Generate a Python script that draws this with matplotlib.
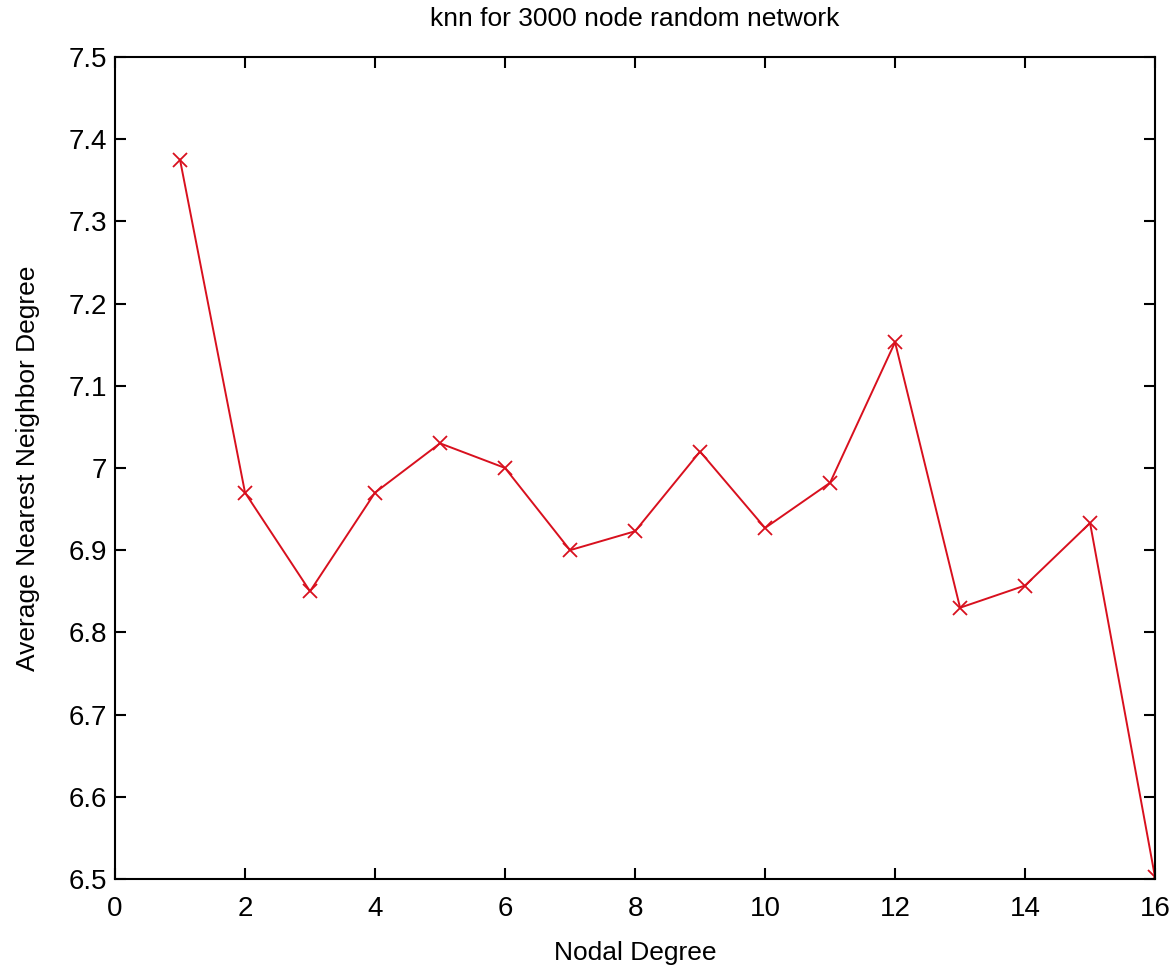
import matplotlib
matplotlib.use("Agg")
import matplotlib.pyplot as plt

# average nearest neighbor degree per nodal degree
degree = [1, 2, 3, 4, 5, 6, 7, 8, 9, 10, 11, 12, 13, 14, 15, 16]
knn = [7.375, 6.97, 6.85, 6.97, 7.03, 7.0, 6.90, 6.923, 7.02, 6.927,
       6.982, 7.153, 6.83, 6.857, 6.933, 6.502]

xticks = [0, 2, 4, 6, 8, 10, 12, 14, 16]
yticks = [6.5, 6.6, 6.7, 6.8, 6.9, 7.0, 7.1, 7.2, 7.3, 7.4, 7.5]
ytick_labels = ["6.5", "6.6", "6.7", "6.8", "6.9", "7", "7.1", "7.2", "7.3", "7.4", "7.5"]

plt.rcParams['font.family'] = ['Liberation Sans', 'DejaVu Sans']

fig = plt.figure(figsize=(11.76, 9.72), dpi=100)
ax = fig.add_axes([0.0978, 0.0957, 0.8844, 0.8457])

ax.plot(degree, knn, color='#d8101e', linewidth=1.4, marker='x',
        markersize=10, markeredgewidth=1.3)

ax.set_xlim(0, 16)
ax.set_ylim(6.5, 7.5)
ax.set_xticks(xticks)
ax.set_yticks(yticks)
ax.set_yticklabels(ytick_labels)
ax.tick_params(direction='in', top=True, right=True, length=8, width=1.5,
               labelsize=20)
ax.tick_params(axis='x', pad=12)
ax.tick_params(axis='y', pad=6)
for s in ax.spines.values():
    s.set_linewidth(1.5)

ax.set_title("knn for 3000 node random network", fontsize=19, pad=22)
ax.set_xlabel("Nodal Degree", fontsize=19, labelpad=14)
ax.set_ylabel("Average Nearest Neighbor Degree", fontsize=19, labelpad=20)

fig.savefig("out.png", dpi=100)
